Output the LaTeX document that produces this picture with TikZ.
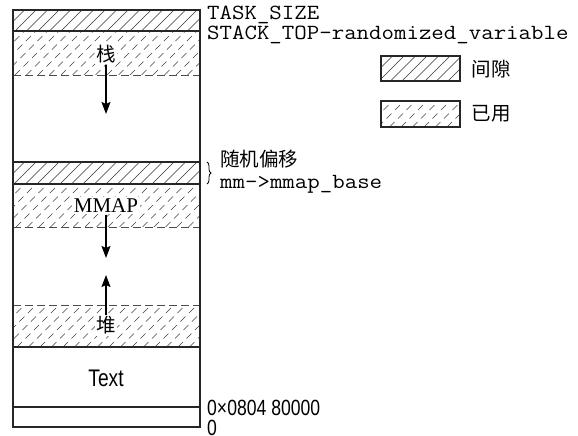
\documentclass[tikz,border=0pt]{standalone}
\usepackage{fontspec}
\setmainfont{Liberation Serif}
\newfontfamily\cjk{Noto Sans CJK SC}
\newfontfamily\monofont[FakeStretch=1.12]{Latin Modern Mono}
\newfontfamily\narrowfont[FakeStretch=0.8]{Liberation Sans}
\usetikzlibrary{arrows.meta,decorations.pathreplacing}

\tikzset{
  frame/.style={line width=1.1bp, black!85},
  gapline/.style={line width=0.6bp, black!80},
  usedline/.style={line width=0.6bp, black!75, dash pattern=on 7bp off 5bp},
  usedbound/.style={line width=0.8bp, black!70, dash pattern=on 8bp off 4bp},
  cjklab/.style={font=\cjk\fontsize{19.5bp}{22bp}\selectfont, inner sep=1.5bp},
  serlab/.style={font=\fontsize{21bp}{24bp}\selectfont, inner sep=2bp},
  sanslab/.style={font=\narrowfont\fontsize{22bp}{24bp}\selectfont, inner sep=0bp},
  monolab/.style={font=\monofont\fontsize{21.6bp}{24bp}\selectfont, inner sep=0bp},
  arr/.style={line width=1.4bp, -{Stealth[length=12bp,width=9bp,inset=2bp]}},
  bg/.style={fill=white}
}

\newcommand{\gaphatch}[4]{%
  \begin{scope}
    \clip (#1,#2) rectangle (#3,#4);
    \pgfmathsetmacro{\hh}{#4-#2}
    \foreach \k in {0,...,26} {\draw[gapline] ({#1-\hh+\k*11.5},#4) -- ++(\hh,-\hh);}
  \end{scope}}
\newcommand{\usedhatch}[4]{%
  \begin{scope}
    \clip (#1,#2) rectangle (#3,#4);
    \pgfmathsetmacro{\hh}{#4-#2}
    \foreach \k in {0,...,26} {\draw[usedline] ({#1-\hh+\k*11.5},#4) -- ++(\hh,-\hh);}
  \end{scope}}

\begin{document}
\begin{tikzpicture}[x=1bp,y=-1bp]
\useasboundingbox (0,0) rectangle (578,436);

% hatching in the column
\gaphatch{13}{10}{200}{31}
\usedhatch{13}{31}{200}{75}
\gaphatch{13}{162}{200}{184}
\usedhatch{13}{184}{200}{227}
\usedhatch{13}{305}{200}{347}

% boundaries
\draw[usedbound] (13,75) -- (200,75);
\draw[usedbound] (13,227) -- (200,227);
\draw[usedbound] (13,305) -- (200,305);
\draw[frame] (13,31) -- (200,31);
\draw[frame] (13,162) -- (200,162);
\draw[frame] (13,184) -- (200,184);
\draw[frame] (13,347) -- (200,347);
\draw[frame] (13,407) -- (200,407);
\draw[frame] (13,10) rectangle (200,427);

% labels inside
\node[cjklab,bg] (stack) at (106,54) {栈};
\node[serlab,bg] (mmap) at (106,205.5) {MMAP};
\node[cjklab,bg] (heap) at (106,325.5) {堆};
\node[sanslab, font=\narrowfont\fontsize{24bp}{26bp}\selectfont] (text) at (106,378.5) {Text};

\coordinate (stackend) at (106,114);
\coordinate (mmapend) at (106,258);
\coordinate (heapend) at (106,275);
\draw[arr] (stack) -- (stackend);
\draw[arr] (mmap) -- (mmapend);
\draw[arr] (heap) -- (heapend);

% right labels
\node[monolab, anchor=base west] (tasksize) at (207,19.5) {TASK\_SIZE};
\node[monolab, anchor=base west] (stacktop) at (207,40) {STACK\_TOP-randomized\_variable};
\coordinate (bracetop) at (207,162);
\coordinate (bracebot) at (207,184);
\draw[line width=0.8bp, decorate, decoration={brace, amplitude=4bp}] (bracetop) -- (bracebot);
\node[cjklab, inner sep=0bp, anchor=base west] (rand) at (220,167) {随机偏移};
\node[monolab, anchor=base west] (mmapbase) at (220,188.5) {mm->mmap\_base};
\node[sanslab, anchor=base west] (addr) at (207,415) {0×0804 80000};
\node[sanslab, anchor=base west] (zero) at (207,435) {0};

% legend
\gaphatch{381}{56}{460}{81}
\draw[frame] (381,56) rectangle (460,81);
\usedhatch{381}{101}{460}{127}
\draw[frame] (381,101) rectangle (460,127);
\node[cjklab, anchor=west] (gaplab) at (470,69) {间隙};
\node[cjklab, anchor=west] (usedlab) at (470,114) {已用};
\end{tikzpicture}
\end{document}
